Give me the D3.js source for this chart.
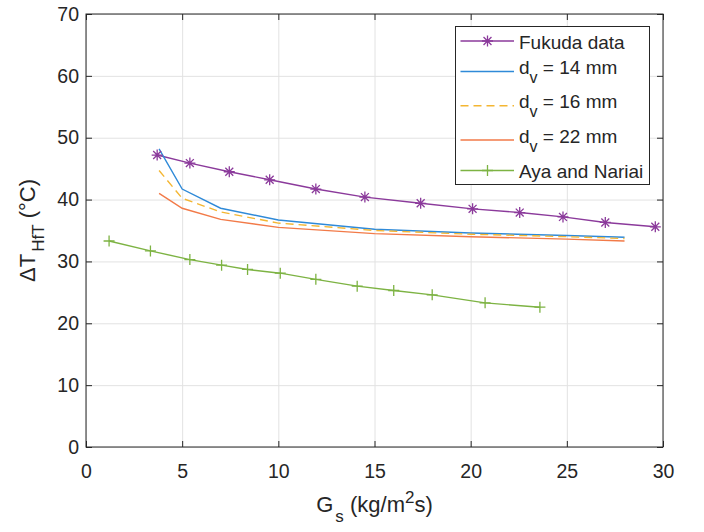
<!DOCTYPE html>
<html>
<head>
<meta charset="utf-8">
<script src="https://cdn.jsdelivr.net/npm/d3@7"></script>
<style>
  body { margin: 0; background: #fff; }
  text { font-family: "Liberation Sans", Arial, sans-serif; fill: #262626; }
</style>
</head>
<body>
<div id="chart"></div>
<script>
// data
let fukudaX = [3.7, 5.4, 7.45, 9.55, 11.95, 14.5, 17.4, 20.1, 22.55, 24.8, 27.0, 29.6];
let fukudaY = [47.2, 45.9, 44.5, 43.2, 41.7, 40.4, 39.4, 38.5, 37.9, 37.2, 36.3, 35.6];

let modelX = [3.8, 5, 7, 10, 15, 20, 25, 28];
let d14Y = [48.2, 41.7, 38.6, 36.7, 35.2, 34.6, 34.2, 33.9];
let d16Y = [44.7, 40.2, 38.0, 36.2, 35.0, 34.4, 34.0, 33.7];
let d22Y = [41.0, 38.6, 36.8, 35.5, 34.5, 34.0, 33.6, 33.3];

let ayaX = [1.2, 3.35, 5.4, 7.05, 8.4, 10.1, 11.95, 14.1, 16.0, 18.0, 20.75, 23.6];
let ayaY = [33.3, 31.7, 30.3, 29.4, 28.7, 28.1, 27.1, 26.0, 25.3, 24.6, 23.3, 22.6];

let xTicks = [0, 5, 10, 15, 20, 25, 30];
let yTicks = [0, 10, 20, 30, 40, 50, 60, 70];

let width = 704;
let height = 532;
let margin = ({top: 14, right: 41, bottom: 85, left: 86});

let svg = d3.select("#chart")
    .append("svg")
    .attr("width", width)
    .attr("height", height);

let x = d3.scaleLinear().domain([0, 30]).range([margin.left, width - margin.right]);
let y = d3.scaleLinear().domain([0, 70]).range([height - margin.bottom, margin.top]);

let plotH = y(0) - y(70);
let plotW = x(30) - x(0);

// grid
svg.append("g")
    .attr("transform", "translate(0," + y(0) + ")")
    .call(d3.axisBottom(x).tickValues(xTicks).tickSize(-plotH).tickFormat(""))
    .call(g => g.select(".domain").remove())
    .selectAll("line").attr("stroke", "#e2e2e2");
svg.append("g")
    .attr("transform", "translate(" + x(0) + ",0)")
    .call(d3.axisLeft(y).tickValues(yTicks).tickSize(-plotW).tickFormat(""))
    .call(g => g.select(".domain").remove())
    .selectAll("line").attr("stroke", "#e2e2e2");

// series
let series = [
  {name: "fukuda", xs: fukudaX, ys: fukudaY, color: "#8b3a9b", dash: null},
  {name: "d14", xs: modelX, ys: d14Y, color: "#2f8ad8", dash: null},
  {name: "d16", xs: modelX, ys: d16Y, color: "#f4b632", dash: "8,5"},
  {name: "d22", xs: modelX, ys: d22Y, color: "#f27a48", dash: null},
  {name: "aya", xs: ayaX, ys: ayaY, color: "#7db343", dash: null}
];

let line = d3.line().x(d => x(d[0])).y(d => y(d[1]));

series.forEach(function(s) {
  let pts = s.xs.map((v, i) => [v, s.ys[i]]);
  svg.append("path")
      .datum(pts)
      .attr("d", line)
      .attr("fill", "none")
      .attr("stroke", s.color)
      .attr("stroke-width", 1.4)
      .attr("stroke-dasharray", s.dash);
});

function starPath(cx, cy, r) {
  let d = r * 0.72;
  return "M" + (cx - r) + "," + cy + "h" + (2 * r) +
         "M" + cx + "," + (cy - r) + "v" + (2 * r) +
         "M" + (cx - d) + "," + (cy - d) + "l" + (2 * d) + "," + (2 * d) +
         "M" + (cx - d) + "," + (cy + d) + "l" + (2 * d) + "," + (-2 * d);
}
function plusPath(cx, cy, r) {
  return "M" + (cx - r) + "," + cy + "h" + (2 * r) +
         "M" + cx + "," + (cy - r) + "v" + (2 * r);
}

svg.append("g").selectAll("path")
    .data(fukudaX.map((v, i) => [v, fukudaY[i]]))
    .enter().append("path")
    .attr("d", d => starPath(x(d[0]), y(d[1]), 5.5))
    .attr("stroke", "#8b3a9b").attr("stroke-width", 1.3).attr("fill", "none");

svg.append("g").selectAll("path")
    .data(ayaX.map((v, i) => [v, ayaY[i]]))
    .enter().append("path")
    .attr("d", d => plusPath(x(d[0]), y(d[1]), 5.5))
    .attr("stroke", "#7db343").attr("stroke-width", 1.3).attr("fill", "none");

// box and ticks
let axisColor = "#262626";
let bx = svg.append("g");
bx.append("g")
    .attr("transform", "translate(0," + y(0) + ")")
    .call(d3.axisBottom(x).tickValues(xTicks).tickSize(-6).tickPadding(17))
    .call(g => g.select(".domain").remove());
bx.append("g")
    .attr("transform", "translate(0," + y(70) + ")")
    .call(d3.axisTop(x).tickValues(xTicks).tickSize(-6).tickFormat(""))
    .call(g => g.select(".domain").remove());
bx.append("g")
    .attr("transform", "translate(" + x(0) + ",0)")
    .call(d3.axisLeft(y).tickValues(yTicks).tickSize(-6).tickPadding(7))
    .call(g => g.select(".domain").remove());
bx.append("g")
    .attr("transform", "translate(" + x(30) + ",0)")
    .call(d3.axisRight(y).tickValues(yTicks).tickSize(-6).tickFormat(""))
    .call(g => g.select(".domain").remove());
bx.selectAll("line").attr("stroke", axisColor);
bx.selectAll("text")
    .style("font-family", "'Liberation Sans', Arial, sans-serif")
    .style("font-size", "19.5px")
    .attr("fill", axisColor);

svg.append("rect")
    .attr("x", x(0)).attr("y", y(70))
    .attr("width", plotW).attr("height", plotH)
    .attr("fill", "none").attr("stroke", axisColor).attr("stroke-width", 1);

// axis labels
let xl = svg.append("text")
    .attr("x", (x(0) + x(30)) / 2)
    .attr("y", 512)
    .attr("text-anchor", "middle")
    .style("font-size", "22px");
xl.append("tspan").text("G");
xl.append("tspan").attr("dy", 10).attr("dx", 2).style("font-size", "17px").text("s");
xl.append("tspan").attr("dy", -10).text(" (kg/m");
xl.append("tspan").attr("dy", -9).style("font-size", "17px").text("2");
xl.append("tspan").attr("dy", 9).text("s)");

let yl = svg.append("text")
    .attr("transform", "translate(35," + ((y(0) + y(70)) / 2) + ") rotate(-90)")
    .attr("text-anchor", "middle")
    .style("font-size", "22px");
yl.append("tspan").text("\u0394T");
yl.append("tspan").attr("dy", 9).attr("dx", 2).style("font-size", "17px").text("HfT");
yl.append("tspan").attr("dy", -9).text(" (\u00B0C)");

// legend
let legendRows = [
  {label: "Fukuda data", sub: null, after: null, color: "#8b3a9b", dash: null, marker: "star", ly: 41},
  {label: "d", sub: "v", after: " = 14 mm", color: "#2f8ad8", dash: null, marker: null, ly: 71.5},
  {label: "d", sub: "v", after: " = 16 mm", color: "#f4b632", dash: "8,5", marker: null, ly: 105.7},
  {label: "d", sub: "v", after: " = 22 mm", color: "#f27a48", dash: null, marker: null, ly: 140},
  {label: "Aya and Nariai", sub: null, after: null, color: "#7db343", dash: null, marker: "plus", ly: 170.5}
];

let lg = svg.append("g");
lg.append("rect")
    .attr("x", 455.5).attr("y", 26.5)
    .attr("width", 194).attr("height", 158)
    .attr("fill", "#fff").attr("stroke", axisColor).attr("stroke-width", 1);

legendRows.forEach(function(r) {
  lg.append("line")
      .attr("x1", 460.5).attr("x2", 514)
      .attr("y1", r.ly).attr("y2", r.ly)
      .attr("stroke", r.color).attr("stroke-width", 1.4)
      .attr("stroke-dasharray", r.dash);
  if (r.marker === "star") {
    lg.append("path").attr("d", starPath(487.5, r.ly, 5.5))
        .attr("stroke", r.color).attr("stroke-width", 1.3).attr("fill", "none");
  }
  if (r.marker === "plus") {
    lg.append("path").attr("d", plusPath(487.5, r.ly, 5.5))
        .attr("stroke", r.color).attr("stroke-width", 1.3).attr("fill", "none");
  }
  let t = lg.append("text")
      .attr("x", 519)
      .attr("y", r.sub ? r.ly + 2.5 : r.ly + 7.5)
      .style("font-size", "19px");
  t.append("tspan").text(r.label);
  if (r.sub) {
    t.append("tspan").attr("dy", 9).style("font-size", "16px").text(r.sub);
    t.append("tspan").attr("dy", -9).text(r.after);
  }
});
</script>
</body>
</html>
